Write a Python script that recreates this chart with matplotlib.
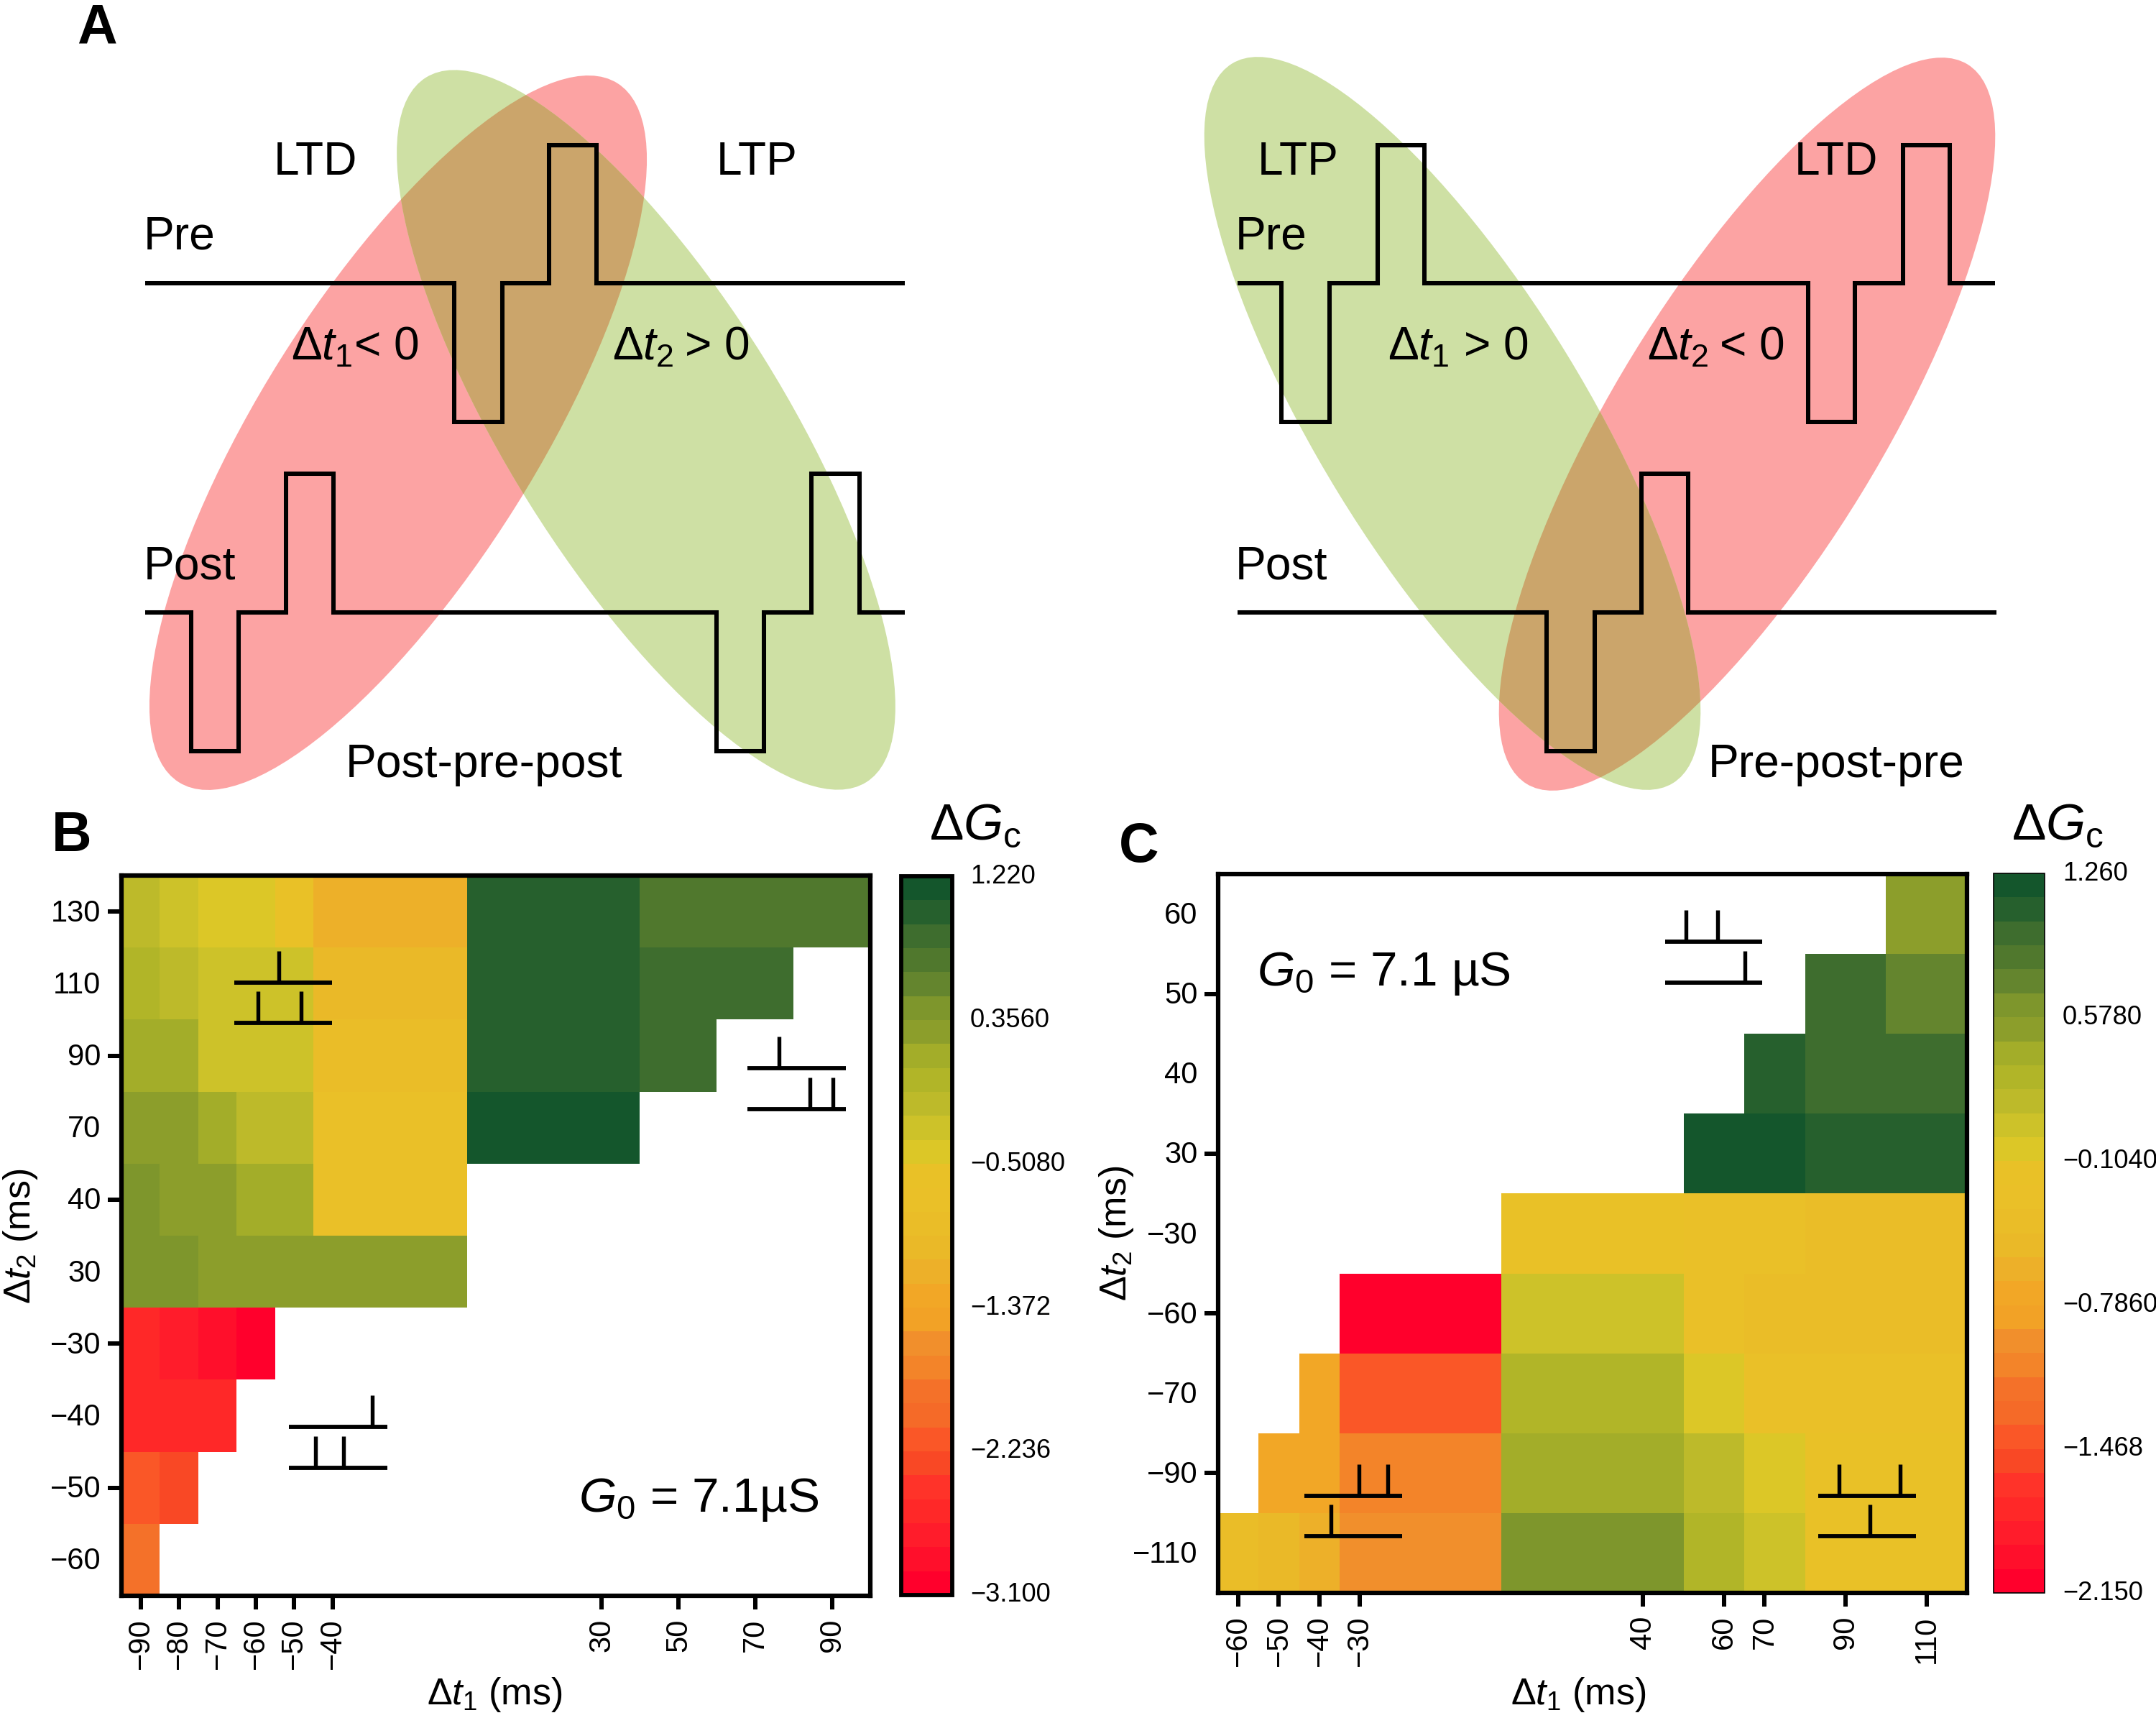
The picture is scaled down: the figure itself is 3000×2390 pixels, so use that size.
import numpy as np
import matplotlib
matplotlib.use('Agg')
import matplotlib.pyplot as plt
from matplotlib.colors import ListedColormap, Normalize
from matplotlib.patches import Ellipse
from matplotlib.transforms import ScaledTranslation

plt.rcParams['font.family'] = ['Liberation Sans', 'DejaVu Sans']
plt.rcParams['mathtext.fontset'] = 'custom'
plt.rcParams['mathtext.rm'] = 'Liberation Sans'
plt.rcParams['mathtext.it'] = 'Liberation Sans:italic'
plt.rcParams['mathtext.bf'] = 'Liberation Sans:bold'

nan = np.nan

# panel B
b_dt1 = [-90, -80, -70, -60, -50, -40, 30, 50, 70, 90]
b_dt2 = ['130', '110', '90', '70', '40', '30', '\u221230', '\u221240', '\u221250', '\u221260']
b_dg = [
    [-0.15, -0.29, -0.44, -0.44, -0.58, -1.16, 1.00, 0.72, 0.72, 0.72],
    [0.00, -0.15, -0.29, -0.29, -0.36, -1.01, 1.00, 0.86, 0.86, nan],
    [0.14, 0.14, -0.29, -0.29, -0.29, -0.87, 1.00, 0.86, nan, nan],
    [0.28, 0.28, 0.14, -0.15, -0.15, -0.72, 1.15, nan, nan, nan],
    [0.43, 0.28, 0.28, 0.14, 0.14, -0.72, nan, nan, nan, nan],
    [0.43, 0.43, 0.28, 0.28, 0.28, 0.28, nan, nan, nan, nan],
    [-2.60, -2.74, -2.88, -3.03, nan, nan, nan, nan, nan, nan],
    [-2.60, -2.60, -2.60, nan, nan, nan, nan, nan, nan, nan],
    [-2.16, -2.31, nan, nan, nan, nan, nan, nan, nan, nan],
    [-1.88, nan, nan, nan, nan, nan, nan, nan, nan, nan],
]
b_cticks = [1.220, 0.356, -0.508, -1.372, -2.236, -3.100]
b_clabels = ['1.220', '0.3560', '\u22120.5080', '\u22121.372', '\u22122.236', '\u22123.100']

# panel C
c_dt1 = [-60, -50, -40, -30, 40, 60, 70, 90, 110]
c_dt2 = ['60', '50', '40', '30', '\u221230', '\u221260', '\u221270', '\u221290', '\u2212110']
c_dg = [
    [nan, nan, nan, nan, nan, nan, nan, nan, 0.52],
    [nan, nan, nan, nan, nan, nan, nan, 0.98, 0.75],
    [nan, nan, nan, nan, nan, nan, 1.09, 0.98, 0.98],
    [nan, nan, nan, nan, nan, 1.20, 1.20, 1.09, 1.09],
    [nan, nan, nan, nan, -0.16, -0.27, -0.27, -0.39, -0.39],
    [nan, nan, nan, -2.09, 0.07, -0.27, -0.39, -0.39, -0.39],
    [nan, nan, -0.73, -1.41, 0.29, -0.05, -0.27, -0.33, -0.27],
    [nan, -0.73, -0.73, -1.07, 0.41, 0.18, -0.05, -0.16, -0.16],
    [-0.39, -0.50, -0.62, -0.96, 0.64, 0.29, 0.12, -0.16, -0.16],
]
c_cticks = [1.260, 0.578, -0.104, -0.786, -1.468, -2.150]
c_clabels = ['1.260', '0.5780', '\u22120.1040', '\u22120.7860', '\u22121.468', '\u22122.150']

# colour bands, top of the bar first
bands = ['#14562C', '#26602D', '#3E6D2E', '#50782D', '#64852E', '#7E962C',
         '#8C9E2B', '#A3AD29', '#B1B528', '#BDBA2A', '#CDC229', '#DCC727',
         '#E9C127', '#EAC028', '#EABD28', '#EAB928', '#EDB029', '#F2A726',
         '#F2A226', '#F18F2C', '#F38429', '#F47129', '#F56A28', '#FA5727',
         '#F94825', '#FF3329', '#FF2828', '#FF1C2B', '#FF0F2B', '#FF002C']
cmap = ListedColormap(bands[::-1])
cmap.set_bad((1, 1, 1, 0))

W, H = 3000, 2390

# panel A drawing, in image pixels
red_col, green_col, mix_col = '#FCA3A3', '#CEE0A4', '#CBA56B'
left_ellipses = {'red': (554, 602, 574, 193, 57.9), 'green': (899, 598, 578, 192, -58.0)}
right_ellipses = {'red': (2431, 590, 587, 186, 58.5), 'green': (2021, 589, 587, 186, -58.5)}
pre_y, post_y = 394, 852
down_y, up_post_y, down_post_y, up_pre_y = 587, 659, 1045, 202
traces = [
    (202, 1259, pre_y, [(632, 699, down_y), (764, 830, up_pre_y)]),
    (202, 1259, post_y, [(266, 332, down_post_y), (398, 464, up_post_y),
                         (997, 1063, down_post_y), (1129, 1196, up_post_y)]),
    (1722, 2776, pre_y, [(1783, 1850, down_y), (1917, 1982, up_pre_y),
                         (2516, 2581, down_y), (2648, 2713, up_pre_y)]),
    (1722, 2778, post_y, [(2152, 2219, down_post_y), (2284, 2349, up_post_y)]),
]
a_text = [
    (381, 243, 'LTD'), (997, 243, 'LTP'), (200, 346, 'Pre'), (200, 805, 'Post'),
    (405, 501, '\u0394$t_1$< 0'), (852, 501, '\u0394$t_2$\u2009> 0'), (481, 1081, 'Post-pre-post'),
    (1750, 243, 'LTP'), (2497, 243, 'LTD'), (1719, 346, 'Pre'), (1719, 805, 'Post'),
    (1931, 501, '\u0394$t_1$ > 0'), (2292, 501, '\u0394$t_2$\u2009< 0'), (2377, 1081, 'Pre-post-pre'),
]

# small spike icons: x0, x1, upper line y, lower line y, upper spikes, lower spikes
icons = [
    (326, 462, 1367, 1423, [388], [359, 419]),
    (1040, 1177, 1486, 1543, [1084], [1127, 1159]),
    (402, 539, 1985, 2042, [518], [439, 478]),
    (2317, 2452, 1310, 1367, [2346, 2390], [2428]),
    (1815, 1951, 2081, 2137, [1891, 1931], [1852]),
    (2530, 2666, 2081, 2137, [2559, 2644], [2602]),
]


def px_axes(fig, x0, y0, x1, y1):
    return fig.add_axes([x0 / W, 1 - y1 / H, (x1 - x0) / W, (y1 - y0) / H])


def nudge(labels, fig, dx, dy):
    # move tick labels by a few image pixels
    shift = ScaledTranslation(dx / 300, dy / 300, fig.dpi_scale_trans)
    for lab in labels:
        lab.set_transform(lab.get_transform() + shift)


def heatmap(fig, box, cbox, dt1, dt2, dg, cticks, clabels, cbar_lw, ticked):
    ax = px_axes(fig, *box)
    norm = Normalize(vmin=cticks[-1], vmax=cticks[0])
    rows = np.arange(len(dt2))
    mesh = ax.pcolormesh(dt1, rows, np.array(dg), cmap=cmap, norm=norm, shading='nearest')
    ax.invert_yaxis()
    ax.set_xticks(dt1)
    ax.set_xticklabels([str(v).replace('-', '\u2212') for v in dt1], rotation=90, fontsize=10)
    ax.set_yticks(rows)
    ax.set_yticklabels(dt2, fontsize=10)
    ax.tick_params(axis='x', width=1.45, length=4.5, pad=3)
    ax.tick_params(axis='y', length=0, pad=6.9)
    # only every other row has a tick mark in the original
    mark = 19 / (box[2] - box[0])
    for r in rows[ticked::2]:
        ax.plot([-mark, 0], [r, r], transform=ax.get_yaxis_transform(), color='k', lw=1.45,
                clip_on=False, solid_capstyle='butt', scalex=False, scaley=False)
    nudge(ax.get_yticklabels(), fig, 0, 2)
    for s in ax.spines.values():
        s.set_linewidth(1.5)
    cax = px_axes(fig, *cbox)
    cbar = fig.colorbar(mesh, cax=cax)
    cbar.set_ticks(cticks, labels=clabels)
    cbar.ax.tick_params(length=0, pad=6, labelsize=8.7)
    cbar.outline.set_linewidth(cbar_lw)
    nudge(cbar.ax.get_yticklabels(), fig, 0, 4)
    return ax


fig = plt.figure(figsize=(10, 2390 / 300), dpi=300)

heatmap(fig, (169, 1218, 1211, 2220), (1254, 1219, 1325, 2219), b_dt1, b_dt2, b_dg,
        b_cticks, b_clabels, 1.4, 0)
heatmap(fig, (1695, 1216, 2737, 2216), (2774, 1215, 2845, 2216), c_dt1, c_dt2, c_dg,
        c_cticks, c_clabels, 0.4, 1)

# overlay in image pixels for the drawing and the loose text
over = fig.add_axes([0, 0, 1, 1], zorder=5)
over.set_xlim(0, W)
over.set_ylim(H, 0)
over.axis('off')

for group in (left_ellipses, right_ellipses):
    r = group['red']
    g = group['green']
    over.add_patch(Ellipse(r[:2], 2 * r[2], 2 * r[3], angle=-r[4], fc=red_col, ec='none'))
    green = Ellipse(g[:2], 2 * g[2], 2 * g[3], angle=-g[4], fc=green_col, ec='none')
    over.add_patch(green)
    mix = Ellipse(r[:2], 2 * r[2], 2 * r[3], angle=-r[4], fc=mix_col, ec='none')
    over.add_patch(mix)
    mix.set_clip_path(green)

for x0, x1, base, pulses in traces:
    xs = [x0]
    ys = [base]
    for a, b, level in pulses:
        xs += [a, a, b, b]
        ys += [base, level, level, base]
    xs.append(x1)
    ys.append(base)
    over.plot(xs, ys, color='k', lw=1.45, solid_joinstyle='miter', solid_capstyle='butt')

for x, y, s in a_text:
    over.text(x, y, s, fontsize=15.4, ha='left', va='baseline')

for x0, x1, y_up, y_low, up, low in icons:
    over.plot([x0, x1], [y_up, y_up], color='k', lw=1.4, solid_capstyle='butt')
    over.plot([x0, x1], [y_low, y_low], color='k', lw=1.4, solid_capstyle='butt')
    for x in up:
        over.plot([x, x], [y_up, y_up - 44], color='k', lw=1.3, solid_capstyle='butt')
    for x in low:
        over.plot([x, x], [y_low, y_low - 44], color='k', lw=1.3, solid_capstyle='butt')

for x, y, s in [(107, 60, 'A'), (72, 1184, 'B'), (1557, 1199, 'C')]:
    over.text(x, y, s, fontsize=18.5, fontweight='bold', ha='left', va='baseline')

over.text(805, 2103, '$G_0$ = 7.1\u00b5S', fontsize=16.2, ha='left', va='baseline')
over.text(1749, 1371, '$G_0$ = 7.1 \u00b5S', fontsize=16.2, ha='left', va='baseline')
over.text(1293, 1168, '\u0394$G_{\\mathrm{c}}$', fontsize=17, ha='left', va='baseline')
over.text(2799, 1168, '\u0394$G_{\\mathrm{c}}$', fontsize=17, ha='left', va='baseline')

over.text(688, 2371, '\u0394$t_1$ (ms)', fontsize=12.5, ha='center', va='baseline')
over.text(2196, 2371, '\u0394$t_1$ (ms)', fontsize=12.5, ha='center', va='baseline')
over.text(29, 1720, '\u0394$t_2$ (ms)', fontsize=12.5, rotation=90, ha='center', va='center')
over.text(1553, 1716, '\u0394$t_2$ (ms)', fontsize=12.5, rotation=90, ha='center', va='center')

fig.savefig('out.png', dpi=300)
